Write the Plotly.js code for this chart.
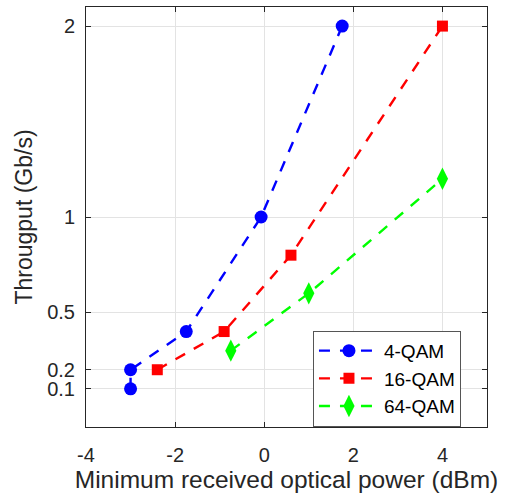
<!DOCTYPE html>
<html>
<head>
<meta charset="utf-8">
<script src="https://cdn.plot.ly/plotly-3.0.1.min.js"></script>
<style>
  html, body { margin: 0; padding: 0; background: #fff; }
  #chart { width: 505px; height: 500px; }
</style>
</head>
<body>
<div id="chart"></div>
<script>
// Minimum received optical power (dBm) needed for each throughput (Gb/s)
const qam4Power = [-3, -3, -1.75, -0.07, 1.75];
const qam4Rate = [0.1, 0.2, 0.4, 1, 2];

const qam16Power = [-2.4, -0.9, 0.6, 4];
const qam16Rate = [0.2, 0.4, 0.8, 2];

const qam64Power = [-0.75, 1, 4];
const qam64Rate = [0.3, 0.6, 1.2];

const seriesNames = ['4-QAM', '16-QAM', '64-QAM'];
const yTickValues = [0.1, 0.2, 0.5, 1, 2];
const yTickLabels = ['0.1', '0.2', '0.5', '1', '2'];
const xTickValues = [-4, -2, 0, 2, 4];
const xTickLabels = ['-4', '-2', '0', '2', '4'];

const fontFamily = 'Arial, "Liberation Sans", Helvetica, sans-serif';
const dashStyle = '11px,10px';

const traces = [
  {
    x: qam4Power, y: qam4Rate, name: seriesNames[0],
    mode: 'lines+markers', type: 'scatter',
    line: { color: '#0000ff', width: 2.4, dash: dashStyle },
    marker: { symbol: 'circle', size: 13, color: '#0000ff' }
  },
  {
    x: qam16Power, y: qam16Rate, name: seriesNames[1],
    mode: 'lines+markers', type: 'scatter',
    line: { color: '#ff0000', width: 2.4, dash: dashStyle },
    marker: { symbol: 'square', size: 11, color: '#ff0000' }
  },
  {
    x: qam64Power, y: qam64Rate, name: seriesNames[2],
    mode: 'lines+markers', type: 'scatter',
    line: { color: '#00ff00', width: 2.4, dash: dashStyle },
    marker: { symbol: 'diamond-tall', size: 16, color: '#00ff00' }
  }
];

const axisCommon = {
  showline: true, linecolor: '#262626', linewidth: 1,
  mirror: 'ticks', ticks: 'inside', ticklen: 5, tickcolor: '#262626',
  showgrid: true, gridcolor: '#e3e3e3', gridwidth: 1,
  zeroline: false,
  tickfont: { family: fontFamily, size: 20, color: '#262626' }
};

const layout = {
  width: 505, height: 500,
  margin: { l: 86, r: 18, t: 7, b: 73 },
  paper_bgcolor: '#ffffff', plot_bgcolor: '#ffffff',
  showlegend: true,
  xaxis: Object.assign({}, axisCommon, {
    range: [-4, 5],
    tickvals: xTickValues,
    ticktext: xTickLabels,
    ticklabelstandoff: 10,
    title: { text: 'Minimum received optical power (dBm)', standoff: 5,
             font: { family: fontFamily, size: 24.5, color: '#262626' } }
  }),
  yaxis: Object.assign({}, axisCommon, {
    range: [-0.1, 2.1],
    tickvals: yTickValues,
    ticktext: yTickLabels,
    ticklabelstandoff: 6,
    title: { text: 'Througput (Gb/s)', standoff: 8,
             font: { family: fontFamily, size: 23, color: '#262626' } }
  }),
  legend: {
    x: 0.566, y: 0.229, xanchor: 'left', yanchor: 'top',
    bgcolor: '#ffffff', bordercolor: '#555555', borderwidth: 1,
    font: { family: fontFamily, size: 19, color: '#000000' },
    itemwidth: 60,
    tracegroupgap: 0
  }
};

Plotly.newPlot('chart', traces, layout, { displayModeBar: false, staticPlot: true });
</script>
</body>
</html>
